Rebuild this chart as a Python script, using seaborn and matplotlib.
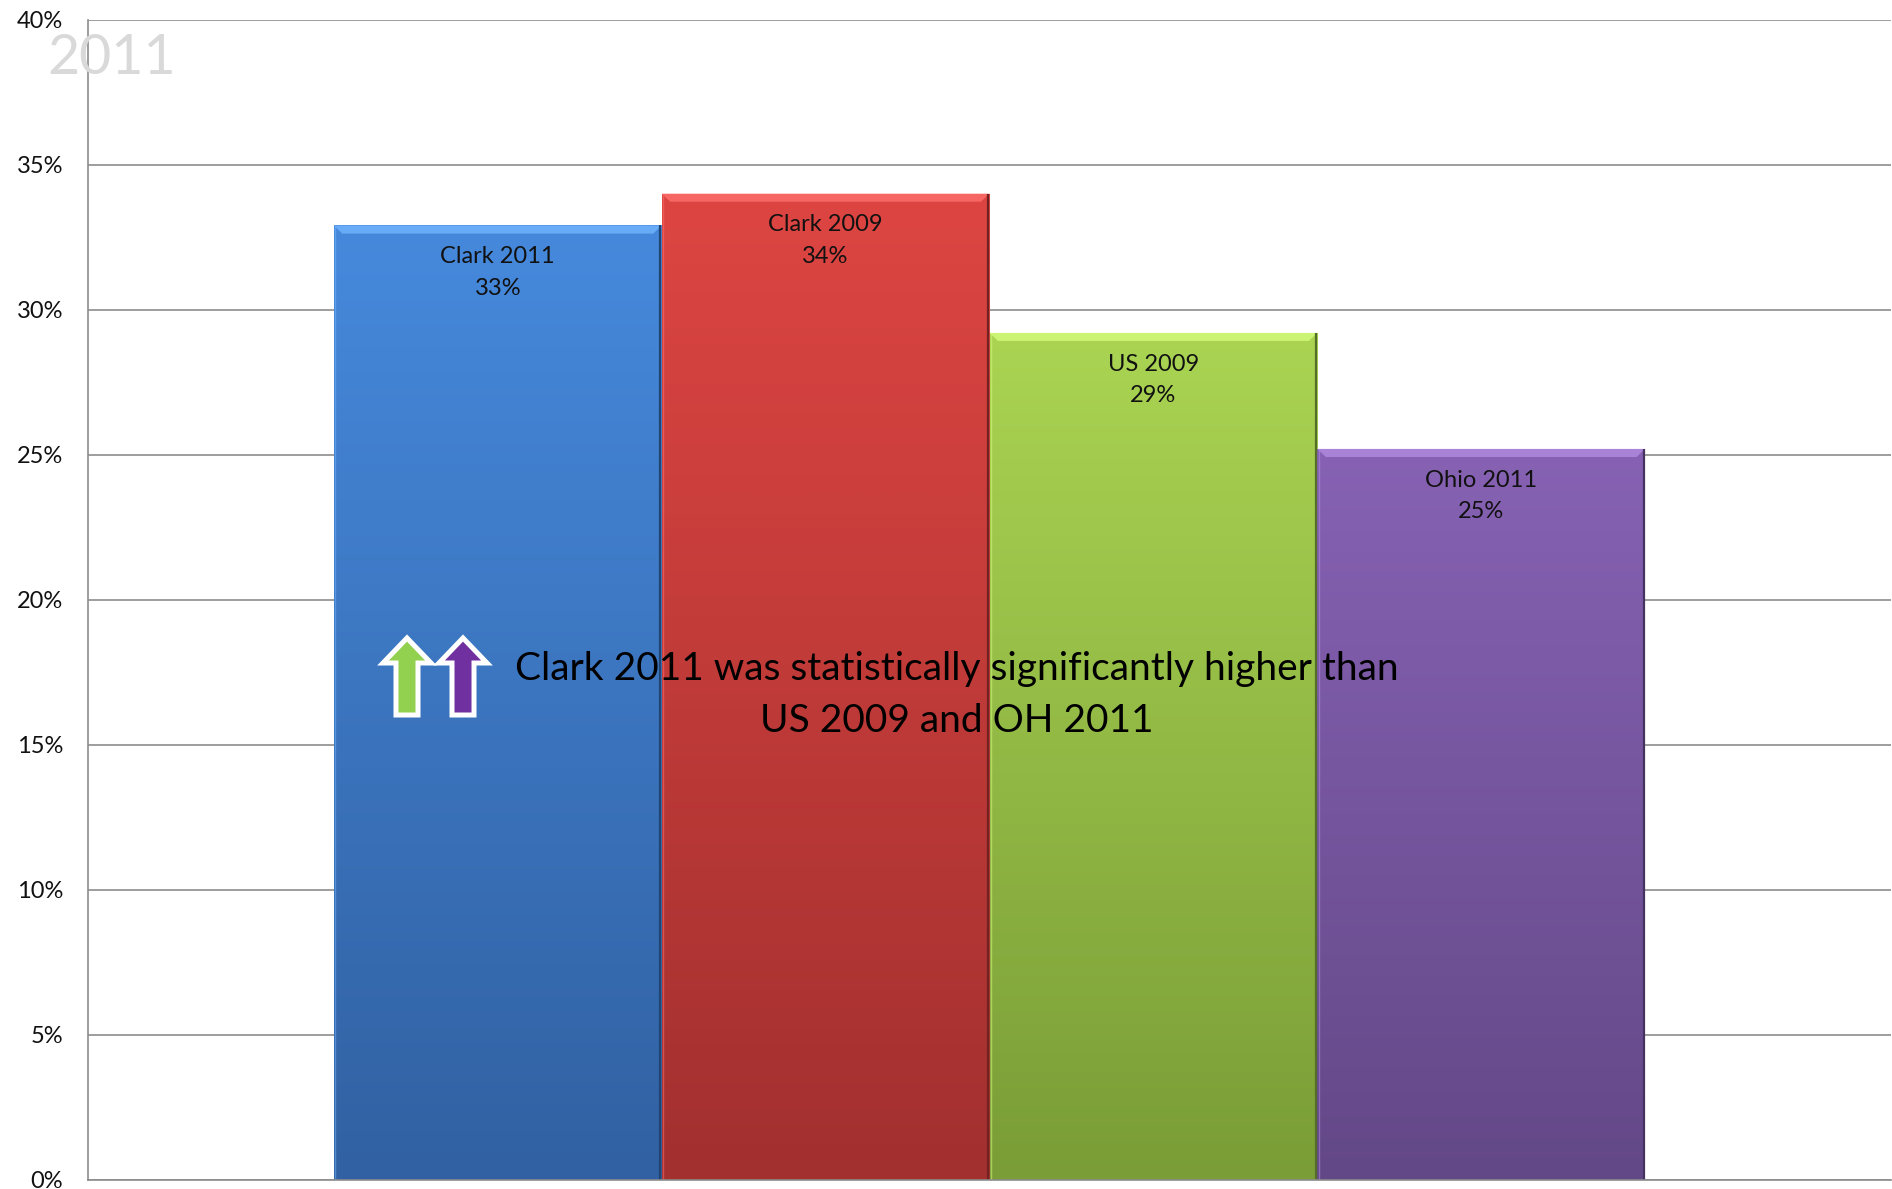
import numpy as np
import pandas as pd
import matplotlib
matplotlib.use("Agg")
import matplotlib.pyplot as plt
import seaborn as sns
from matplotlib.colors import LinearSegmentedColormap, to_rgb
from matplotlib.patches import Polygon
from matplotlib.ticker import PercentFormatter

# Share of respondents by group
groups = ["Clark 2011", "Clark 2009", "US 2009", "Ohio 2011"]
shares = [0.329, 0.340, 0.292, 0.252]

# Gradient colours for each bar (top, bottom)
top_colors = ["#4689DC", "#DD4542", "#AAD452", "#8762B4"]
bottom_colors = ["#3161A2", "#A2302F", "#7A9D37", "#634887"]

y_ticks = [0, 0.05, 0.10, 0.15, 0.20, 0.25, 0.30, 0.35, 0.40]

note_text = "Clark 2011 was statistically significantly higher than\nUS 2009 and OH 2011"
year_text = "2011"

sns.set_theme(style="white")
plt.rcParams["font.family"] = ["Lato", "DejaVu Sans"]

df = pd.DataFrame({"group": groups, "share": shares})

fig = plt.figure(figsize=(18.92, 11.89), dpi=100)
ax = fig.add_axes([88 / 1892, 1 - 1180 / 1189, (1891 - 88) / 1892, (1180 - 19.5) / 1189])

sns.barplot(data=df, x="group", y="share", hue="group", palette=top_colors,
            width=1.0, edgecolor="none", linewidth=0, legend=False, ax=ax, zorder=2)

grad = np.linspace(0, 1, 256).reshape(-1, 1)
for patch, name, c_top, c_bot in zip(ax.patches, groups, top_colors, bottom_colors):
    x0, y0 = patch.get_x(), patch.get_y()
    w, h = patch.get_width(), patch.get_height()
    cmap = LinearSegmentedColormap.from_list("bar", [c_bot, c_top])
    im = ax.imshow(grad, extent=[x0, x0 + w, y0, y0 + h], origin="lower",
                   cmap=cmap, aspect="auto", zorder=2.1, interpolation="bicubic")
    im.set_clip_path(patch)

    # bevel: light band along the top, dark edge on the right
    top = y0 + h
    dx, dy = 0.026, 0.0028
    light = tuple(min(1, c + 0.18) for c in to_rgb(c_top))
    ax.add_patch(Polygon([(x0, top), (x0 + w, top), (x0 + w - dx, top - dy),
                          (x0 + dx, top - dy)], closed=True, facecolor=light,
                         edgecolor="none", alpha=0.75, zorder=2.2))
    dark = tuple(c * 0.7 for c in to_rgb(c_bot))
    ax.plot([x0 + w - 0.004, x0 + w - 0.004], [y0, top], color=dark, lw=1.6,
            zorder=2.3, solid_capstyle="butt")
    ax.plot([x0 + 0.004, x0 + 0.004], [y0, top], color=light, lw=1.0,
            alpha=0.5, zorder=2.3, solid_capstyle="butt")

    ax.annotate(f"{name}\n{h:.0%}",
                xy=(x0 + w / 2, top), xytext=(0, -15), textcoords="offset points",
                ha="center", va="top", fontsize=17, color="#111111",
                linespacing=1.62, zorder=5)

ax.set_xlim(-1.25, 4.25)
ax.set_ylim(0, 0.40)
ax.set_yticks(y_ticks)
ax.yaxis.set_major_formatter(PercentFormatter(1.0, decimals=0))
ax.tick_params(axis="y", length=0, pad=18, labelsize=17, labelcolor="#111111")
ax.set_xticks([])
ax.set_xlabel("")
ax.set_ylabel("")

ax.set_axisbelow(True)
ax.grid(axis="y", color="#8C8C8C", linewidth=1.2)
for side in ["top", "right"]:
    ax.spines[side].set_visible(False)
for side in ["left", "bottom"]:
    ax.spines[side].set_color("#8C8C8C")
    ax.spines[side].set_linewidth(1.2)

# watermark year
fig.text(47 / 1892, 1 - 58 / 1189, year_text, fontsize=40, color="#D9D9D9",
         ha="left", va="center", zorder=1)

# significance note
fig.text(957 / 1892, 1 - 695 / 1189, note_text, fontsize=28, color="#000000",
         ha="center", va="center", linespacing=1.53, zorder=6)


def up_arrow(cx, face):
    # arrow outline in image pixels, converted to figure fractions
    pts = [(cx, 638), (cx + 24, 663), (cx + 11, 663), (cx + 11, 715),
           (cx - 11, 715), (cx - 11, 663), (cx - 24, 663)]
    pts = [(px / 1892, 1 - py / 1189) for px, py in pts]
    fig.patches.append(Polygon(pts, closed=True, facecolor=face, edgecolor="white",
                               linewidth=3.6, joinstyle="miter",
                               transform=fig.transFigure, zorder=6))


up_arrow(407, "#92D050")
up_arrow(463, "#7030A0")

fig.savefig("out.png", dpi=100)
